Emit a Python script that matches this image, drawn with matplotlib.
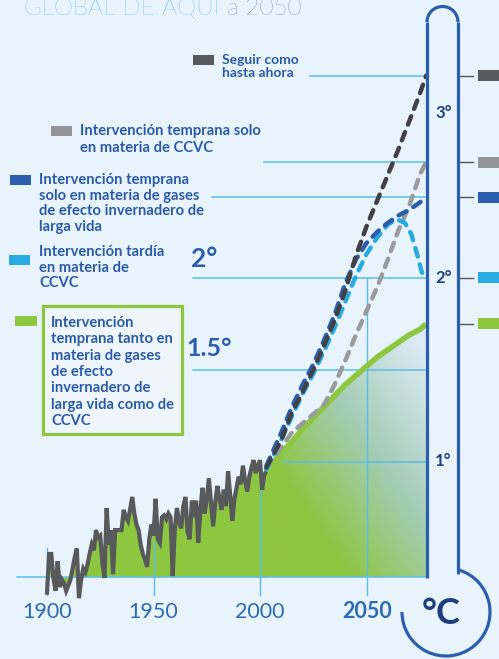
import numpy as np
import matplotlib
matplotlib.use("Agg")
import matplotlib.pyplot as plt
from matplotlib.colors import LinearSegmentedColormap
from matplotlib.patches import Rectangle, Arc, Polygon

plt.rcParams['font.family'] = ['Lato', 'DejaVu Sans']

# observed warming (deg C above pre-industrial), one value per year 1900-2003
obs_years = list(range(1900, 2004))
obs_temp = [
    0.29, 0.50, 0.50, 0.37, 0.30, 0.46, 0.32, 0.36, 0.34, 0.30,
    0.33, 0.36, 0.42, 0.48, 0.53, 0.26, 0.36, 0.42, 0.40, 0.44,
    0.50, 0.55, 0.52, 0.63, 0.59, 0.60, 0.45, 0.37, 0.75, 0.55,
    0.63, 0.39, 0.63, 0.63, 0.63, 0.63, 0.74, 0.70, 0.68, 0.74,
    0.81, 0.72, 0.66, 0.63, 0.55, 0.50, 0.47, 0.43, 0.58, 0.66,
    0.60, 0.80, 0.58, 0.56, 0.70, 0.71, 0.69, 0.72, 0.70, 0.38,
    0.64, 0.75, 0.67, 0.64, 0.76, 0.81, 0.62, 0.58, 0.79, 0.70,
    0.79, 0.56, 0.74, 0.86, 0.72, 0.80, 0.91, 0.78, 0.65, 0.78,
    0.87, 0.80, 0.74, 0.85, 0.76, 0.95, 0.82, 0.68, 0.80, 0.86,
    0.92, 0.88, 0.98, 0.90, 0.84, 0.92, 0.97, 1.01, 0.94, 0.98,
    1.01, 0.85, 0.93, 0.95,
]

# scenarios to 2078 (right edge of the chart)
proj_years = [2003, 2010, 2015, 2020, 2025, 2030, 2035, 2040,
              2045, 2050, 2055, 2060, 2065, 2070, 2075, 2078]
seguir = [0.97, 1.12, 1.27, 1.38, 1.50, 1.63, 1.77, 1.93,
          2.12, 2.28, 2.42, 2.56, 2.70, 2.85, 3.00, 3.10]
temprana_ccvc = [0.97, 1.08, 1.16, 1.21, 1.26, 1.31, 1.42, 1.55,
                 1.69, 1.82, 1.95, 2.10, 2.26, 2.39, 2.56, 2.63]
temprana_gei = [0.98, 1.16, 1.30, 1.42, 1.53, 1.66, 1.80, 1.97,
                2.10, 2.19, 2.25, 2.30, 2.34, 2.37, 2.41, 2.44]
ambas = [0.95, 1.05, 1.11, 1.18, 1.24, 1.30, 1.36, 1.42,
         1.47, 1.52, 1.57, 1.61, 1.65, 1.69, 1.72, 1.75]
tardia_years = [2003, 2010, 2015, 2020, 2025, 2030, 2035, 2040, 2045,
                2050, 2055, 2060, 2064, 2068, 2071, 2074, 2076, 2078]
tardia_ccvc = [0.96, 1.12, 1.25, 1.37, 1.48, 1.60, 1.73, 1.87, 2.01,
               2.13, 2.22, 2.29, 2.32, 2.30, 2.24, 2.12, 2.03, 2.00]

tick_years = [1900, 1950, 2000, 2050]
tick_labels = ["1900", "1950", "2000", "2050"]
tick_tops = [0.53, 0.565, 0.875, 2.0]
level_lines = [3.10, 2.63, 2.44, 2.0, 1.5, 1.0]
level_starts = [2023.5, 2001.9, 1977.5, 1968.5, 1968.5, 2010.8]

legend_labels = [
    ["Seguir como", "hasta ahora"],
    ["Intervención temprana solo", "en materia de CCVC"],
    ["Intervención temprana", "solo en materia de gases",
     "de efecto invernadero de", "larga vida"],
    ["Intervención tardía", "en materia de", "CCVC"],
    ["Intervención", "temprana tanto en", "materia de gases", "de efecto",
     "invernadero de", "larga vida como de", "CCVC"],
]

BG = '#e8f3fb'
GREEN = '#8dc63f'
LBLUE = '#29abe2'
DBLUE = '#2b5fad'
DGREY = '#414143'
MGREY = '#9a9b9e'
TXT = '#2b5ba8'
LINE = '#5bbde8'
NAVY = '#1e3f7d'

# pixel <-> data mapping of the reference layout
PXY = 2.13
PXD = 184.0
def yr(xp):
    return 1900 + (xp - 47) / PXY
def dg(yp):
    return 1 + (462 - yp) / PXD

END = 2078
BASE = dg(577)

fig = plt.figure(figsize=(4.99, 6.59), dpi=100)
fig.patch.set_facecolor(BG)

ax = fig.add_axes([0, 0, 1, 1])
ax.patch.set_alpha(0)

# green area under observed record
ax.fill_between(obs_years, BASE, obs_temp, color=GREEN, lw=0, zorder=1)

# gradient area under the "both" scenario
poly = Polygon([(2002.6, BASE)] + list(zip(proj_years, ambas)) + [(END, BASE)],
               closed=True, facecolor='none', edgecolor='none')
ax.add_patch(poly)
gx = np.linspace(2003, END, 200)
gy = np.linspace(BASE, 1.75, 200)
U, V = np.meshgrid((gx - 2003) / (END - 2003), (gy - BASE) / (1.75 - BASE))
T = np.clip(0.7 * U + 0.75 * V - 0.35, 0, 1)
cmap = LinearSegmentedColormap.from_list('g', [GREEN, '#a4cdb6', '#dbeaf4'])
im = ax.imshow(T, extent=[2002.6, END, BASE, 1.75], origin='lower', cmap=cmap,
               vmin=0, vmax=1, aspect='auto', zorder=1, interpolation='bilinear')
im.set_clip_path(poly)

# guide lines
for x, top in zip(tick_years, tick_tops):
    ax.plot([x, x], [dg(595), top], color=LINE, lw=1.0, zorder=2)
for v, s in zip(level_lines, level_starts):
    ax.plot([s, END], [v, v], color=LINE, lw=1.1, zorder=2)
ax.plot([yr(17), END], [BASE, BASE], color=LINE, lw=1.1, zorder=2)

# observed record
ax.plot(obs_years, obs_temp, color='#58595b', lw=3.0, zorder=3,
        solid_joinstyle='miter')

# scenarios
ax.plot(proj_years, ambas, color=GREEN, lw=4.0, zorder=4, solid_capstyle='butt')
dash = dict(lw=3.2, dashes=(2.0, 1.8), dash_capstyle='round')
ax.plot(proj_years, temprana_ccvc, color=MGREY, zorder=5, **dash)
ax.plot(tardia_years, tardia_ccvc, color=LBLUE, zorder=6, **dash)
ax.plot(proj_years, temprana_gei, color=DBLUE, zorder=7, **dash)
ax.plot(proj_years, seguir, color=DGREY, zorder=8, **dash)

# end markers right of the thermometer
ends = [seguir[-1], temprana_ccvc[-1], temprana_gei[-1], tardia_ccvc[-1], ambas[-1]]
end_cols = ['#58595b', '#939598', DBLUE, LBLUE, GREEN]
for v, c in zip(ends, end_cols):
    ax.plot([yr(459), yr(473)], [v, v], color='#555555', lw=1.0, zorder=2)
    ax.add_patch(Rectangle((yr(478), v - 5.5 / PXD), yr(505) - yr(478), 11 / PXD,
                           color=c, lw=0, zorder=2))

# x tick labels
for x, lab in zip(tick_years, tick_labels):
    ax.text(x, dg(612), lab, ha='center', va='center', fontsize=15.5,
            color='#2b6cb5', fontweight='bold' if x == 2050 else 'normal')

ax.set_xlim(yr(0), yr(499))
ax.set_ylim(dg(659), dg(0))
ax.axis('off')

# overlay in pixel units for the thermometer and the text blocks
px = fig.add_axes([0, 0, 1, 1], zorder=5)
px.patch.set_alpha(0)
px.set_xlim(0, 499)
px.set_ylim(659, 0)
px.axis('off')

tw = 2.3
px.plot([427, 427], [22, 578], color=DBLUE, lw=tw, solid_capstyle='butt')
px.plot([458, 458], [22, 574], color=DBLUE, lw=tw, solid_capstyle='butt')
px.add_patch(Arc((442.5, 22), 31, 31, theta1=180, theta2=360, color=DBLUE, lw=tw))
px.add_patch(Arc((446, 612), 88, 88, theta1=-74, theta2=180, color=DBLUE, lw=tw))

px.text(444, 113, "3°", ha='center', va='center', fontsize=12, fontweight='bold', color=NAVY)
px.text(444, 278, "2°", ha='center', va='center', fontsize=12, fontweight='bold', color=NAVY)
px.text(443, 461, "1°", ha='center', va='center', fontsize=12, fontweight='bold', color=NAVY)
px.text(441, 614, "°C", ha='center', va='center', fontsize=26, fontweight='bold', color=NAVY)

px.text(204, 259, "2°", ha='center', va='center', fontsize=19, fontweight='bold', color=DBLUE)
px.text(209, 349, "1.5°", ha='center', va='center', fontsize=18, fontweight='bold', color=DBLUE)

# title (cut at the top like the source)
t1 = px.text(24, 15, "GLOBAL DE AQUÍ", ha='left', va='baseline', fontsize=17.5,
             fontweight='light', color=LBLUE)
fig.canvas.draw()
x_end = t1.get_window_extent().x1
px.text(x_end + 7, 15, "a 2050", ha='left', va='baseline', fontsize=17.5,
        fontweight='light', color=DBLUE)

# legend: swatch box, text x, first line centre, line step
swatches = [(193, 55, 21, '#58595b'), (51, 126, 21, '#939598'), (10, 175, 21, DBLUE),
            (9, 255, 21, LBLUE), (15, 316, 22, GREEN)]
text_x = [222, 80, 39, 39, 51]
first_y = [60, 131, 180, 252, 323]
steps = [13.0, 16.7, 15.6, 15.6, 16.3]
sizes = [10.0, 10.6, 10.6, 10.6, 10.6]
px.add_patch(Rectangle((43, 306), 139, 128, facecolor='#eef6fc', edgecolor=GREEN, lw=2.3))
for (sx, sy, sw, sc), tx, fy, st, fs, lines in zip(swatches, text_x, first_y, steps,
                                                   sizes, legend_labels):
    px.add_patch(Rectangle((sx, sy), sw, 10, color=sc, lw=0))
    for i, line in enumerate(lines):
        px.text(tx, fy + i * st, line, fontsize=fs, fontweight='bold', color=TXT,
                ha='left', va='center')

fig.savefig("out.png", dpi=100, facecolor=BG)
